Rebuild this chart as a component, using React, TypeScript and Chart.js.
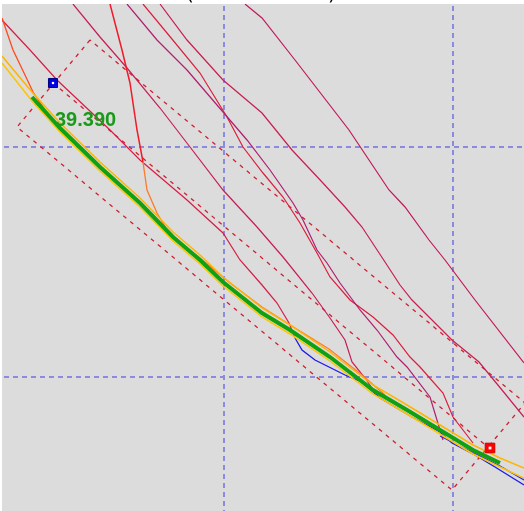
import React, { useEffect, useRef } from "react";
import { Chart, registerables } from "chart.js";

Chart.register(...registerables);

type P = [number, number];

// Grid tick positions
const xTicks = [224, 453];
const yTicks = [147, 377];

// Series
const crimsonL1: P[] = [[2,20],[30,50],[57,80],[110,130],[140,160],[187,200],[223,233],[240,260],[262,285],[277,303],[289,323],[295,338]];
const crimsonT73: P[] = [[73,4],[100,37],[127,68],[160,108],[190,147],[223,190],[257,227],[283,257],[312,293],[330,318],[345,340],[352,362],[365,378],[372,388]];
const purplePA: P[] = [[127,4],[157,40],[187,70],[223,112],[247,140],[270,170],[293,203],[303,220],[317,250],[327,263],[340,283],[360,310],[377,330],[397,357],[407,367],[430,397],[440,430],[443,440]];
const redPB: P[] = [[143,4],[167,33],[200,73],[227,117],[243,147],[263,173],[283,197],[300,223],[317,253],[330,277],[350,300],[373,317],[393,335],[410,357],[420,367],[443,393],[453,417],[473,443]];
const crimsonL3: P[] = [[160,4],[187,40],[223,80],[262,113],[292,150],[322,182],[345,207],[362,227],[385,262],[400,285],[412,300],[435,323],[452,340],[479,362],[502,390],[524,417]];
const crimsonFar: P[] = [[245,4],[262,18],[295,60],[349,130],[359,145],[389,190],[405,207],[429,240],[445,260],[475,300],[524,363]];
const redSteep: P[] = [[110,4],[122,50],[130,83],[137,130],[143,162]];
const orangeCurve: P[] = [[143,162],[147,190],[157,213],[170,235],[200,258],[230,283],[262,307],[295,328],[329,349],[362,375],[385,395]];
const orangeLeft: P[] = [[2,18],[13,50],[25,75],[33,92],[45,110]];
const bandUpper: P[] = [[2,56],[32,92],[60,123],[100,162],[140,198],[173,232],[200,255],[223,277],[262,308],[290,325],[330,352],[373,385],[407,405],[440,425],[473,445],[500,458],[524,468]];
const bandLower: P[] = [[2,63],[32,101],[60,132],[100,171],[140,207],[173,241],[200,264],[223,286],[262,317],[290,334],[330,361],[373,394],[407,414],[440,434],[473,454],[500,467],[524,478]];
const greenLine: P[] = [[32,97],[60,128],[100,167],[140,203],[173,237],[200,260],[223,282],[262,313],[290,330],[330,357],[373,390],[407,410],[440,430],[473,450],[500,463]];
const blueLine: P[] = [[295,338],[302,350],[315,360],[329,367],[345,375],[362,382],[380,398],[412,417],[440,432],[452,443],[475,455],[495,467],[524,485]];
const blueLine2: P[] = [[440,436],[460,446],[480,456],[500,466],[524,480]];
const channelBox: P[] = [[90,40],[17,127],[452,490],[525,403],[90,40]];
const channelMid: P[] = [[53,83],[489,448]];
const startMarker: P[] = [[53,83]];
const endMarker: P[] = [[490,448]];
const priceLabel = "39.390";
const priceLabelAt: P = [55, 126];

const pts = (a: P[]) => a.map(([x, y]) => ({ x, y }));

export default function App() {
  const ref = useRef<HTMLCanvasElement | null>(null);
  useEffect(() => {
    if (!ref.current) return;
    const line = (data: P[], color: string, width: number, order: number, dash?: number[]) => ({
      type: "line" as const,
      data: pts(data),
      borderColor: color,
      backgroundColor: color,
      borderWidth: width,
      pointRadius: 0,
      tension: 0,
      fill: false,
      order,
      borderDash: dash || [],
    });
    const bgPlugin = {
      id: "bg",
      beforeDraw(chart: any) {
        const { ctx, chartArea, scales } = chart;
        ctx.save();
        ctx.fillStyle = "#ffffff";
        ctx.fillRect(0, 0, chart.width, chart.height);
        ctx.fillStyle = "#dcdcdc";
        ctx.fillRect(chartArea.left, chartArea.top, chartArea.right - chartArea.left, chartArea.bottom - chartArea.top);
        ctx.fillStyle = "#000000";
        ctx.font = '20px "DejaVu Sans"';
        ctx.textBaseline = "alphabetic";
        ctx.fillText("(", 186, 0);
        ctx.fillText(")", 328, 0);
        // dashed grid from the scales
        ctx.strokeStyle = "#8a8ae0";
        ctx.lineWidth = 2;
        ctx.setLineDash([5, 4]);
        for (const v of xTicks) {
          const px = Math.round(scales.x.getPixelForValue(v));
          ctx.beginPath();
          ctx.moveTo(px, chartArea.top + 2);
          ctx.lineTo(px, chartArea.bottom);
          ctx.stroke();
        }
        for (const v of yTicks) {
          const py = Math.round(scales.y.getPixelForValue(v));
          ctx.beginPath();
          ctx.moveTo(chartArea.left + 2, py);
          ctx.lineTo(chartArea.right, py);
          ctx.stroke();
        }
        ctx.restore();
      },
      afterDraw(chart: any) {
        const { ctx, scales } = chart;
        ctx.save();
        ctx.fillStyle = "#1a9a1a";
        ctx.font = 'bold 20px "Liberation Sans"';
        ctx.textBaseline = "alphabetic";
        ctx.fillText(priceLabel, scales.x.getPixelForValue(priceLabelAt[0]), scales.y.getPixelForValue(priceLabelAt[1]));
        ctx.restore();
      },
    };
    const chart = new Chart(ref.current, {
      type: "line",
      data: {
        datasets: [
          { type: "scatter", data: pts(startMarker), pointStyle: "rect", pointRadius: 6.4, backgroundColor: "#0000e0", borderColor: "#000080", borderWidth: 1, order: 0 } as any,
          { type: "scatter", data: pts(startMarker), pointStyle: "rect", pointRadius: 1.6, backgroundColor: "#ffffff", borderWidth: 0, order: -1 } as any,
          { type: "scatter", data: pts(endMarker), pointStyle: "rect", pointRadius: 6.8, backgroundColor: "#ff0000", borderColor: "#d00000", borderWidth: 1, order: 0 } as any,
          { type: "scatter", data: pts(endMarker), pointStyle: "rect", pointRadius: 2, backgroundColor: "#ffffff", borderWidth: 0, order: -1 } as any,
          line(greenLine, "#10a010", 4, 1),
          line(bandUpper, "#ffb400", 1.5, 2),
          line(bandLower, "#ffc400", 1.5, 2),
          line(orangeCurve, "#ff7a28", 1.3, 3),
          line(orangeLeft, "#ff4a20", 1.3, 3),
          line(blueLine, "#1a1aee", 1.3, 4),
          line(blueLine2, "#2a2aee", 1.2, 4),
          line(redSteep, "#f01a28", 1.5, 5),
          line(crimsonL1, "#d41e46", 1.2, 5),
          line(crimsonT73, "#c81e55", 1.2, 5),
          line(purplePA, "#b01e6e", 1.2, 5),
          line(redPB, "#dc1e3c", 1.2, 5),
          line(crimsonL3, "#c81e50", 1.2, 5),
          line(crimsonFar, "#c0185a", 1.2, 5),
          line(channelBox, "#d0202e", 1.3, 6, [4, 5]),
          line(channelMid, "#d0202e", 1.3, 6, [4, 5]),
        ] as any,
      },
      options: {
        animation: false,
        responsive: false,
        devicePixelRatio: 1,
        layout: { autoPadding: false, padding: { left: 2, top: 4, right: 0, bottom: 0 } },
        plugins: { legend: { display: false }, tooltip: { enabled: false }, title: { display: false } },
        scales: {
          x: { type: "linear", display: false, min: 2, max: 524 },
          y: { type: "linear", display: false, reverse: true, min: 4, max: 511 },
        },
      } as any,
      plugins: [bgPlugin],
    });
    return () => chart.destroy();
  }, []);
  return (
    <div style={{ position: "fixed", left: 0, top: 0, width: 524, height: 511 }}>
      <canvas ref={ref} width={524} height={511} style={{ display: "block" }} />
    </div>
  );
}
